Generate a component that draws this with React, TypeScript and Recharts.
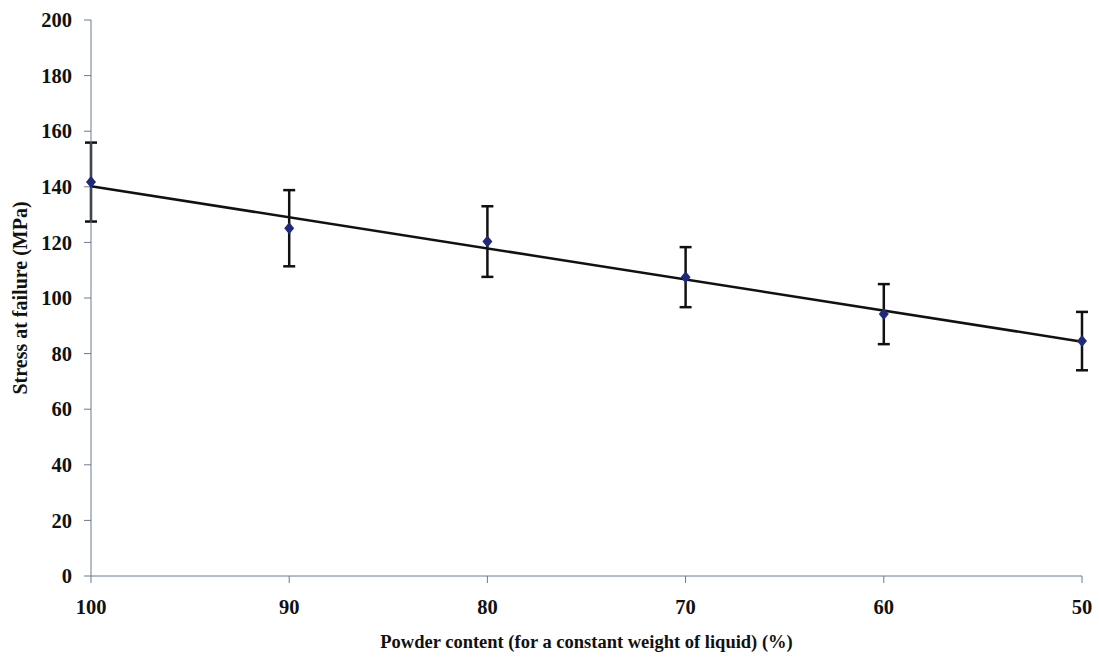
import React from 'react';
import {
    ComposedChart, Scatter, ErrorBar, XAxis, YAxis, ReferenceLine, Label
} from 'recharts';

// powder content (%) and measured stress (MPa) with error half-widths
const powder = [100, 90, 80, 70, 60, 50];
const stress = [141.7, 125.1, 120.3, 107.5, 94.2, 84.5];
const stressErr = [14.2, 13.7, 12.7, 10.8, 10.8, 10.5];

// linear trend line end points
const trendX = [100, 50];
const trendY = [140.2, 84.3];

const xTicks = [100, 90, 80, 70, 60, 50];
const yTicks = [0, 20, 40, 60, 80, 100, 120, 140, 160, 180, 200];

const points = powder.map((p, i) => ({ x: p, y: stress[i], err: stressErr[i] }));

const AXIS = '#6b7a90';
const FONT = '"Liberation Serif", serif';

const Diamond = (props: any) => {
    const { cx, cy } = props;
    return (
        <path
            d={`M${cx},${cy - 6} L${cx + 5},${cy} L${cx},${cy + 6} L${cx - 5},${cy} Z`}
            fill="#1f2a7a"
        />
    );
};

export default function App() {
    const tickStyle = { fontFamily: FONT, fontWeight: 700, fontSize: 20.5, fill: '#111' };
    return (
        <div style={{ position: 'absolute', left: 0, top: 0, width: 1099, height: 658, background: '#fff', fontFamily: FONT }}>
            <ComposedChart
                width={1099}
                height={658}
                margin={{ top: 20, right: 17, bottom: 30, left: 30 }}
            >
                <XAxis
                    type="number"
                    dataKey="x"
                    domain={[50, 100]}
                    reversed
                    ticks={xTicks}
                    stroke={AXIS}
                    tickLine={{ stroke: AXIS }}
                    tickSize={7}
                    tick={tickStyle}
                    tickMargin={16}
                    height={52}
                >
                    <Label
                        value="Powder content (for a constant weight of liquid) (%)"
                        position="insideBottom"
                        offset={-20}
                        style={{ fontFamily: FONT, fontWeight: 700, fontSize: 18.5, fill: '#111' }}
                    />
                </XAxis>
                <YAxis
                    type="number"
                    dataKey="y"
                    domain={[0, 200]}
                    ticks={yTicks}
                    stroke={AXIS}
                    tickLine={{ stroke: AXIS }}
                    tickSize={7}
                    tick={tickStyle}
                    tickMargin={12}
                    width={61}
                >
                    <Label
                        value="Stress at failure (MPa)"
                        angle={-90}
                        position="insideLeft"
                        offset={-10}
                        style={{ fontFamily: FONT, fontWeight: 700, fontSize: 20, fill: '#111', textAnchor: 'middle' }}
                    />
                </YAxis>
                <ReferenceLine
                    segment={[{ x: trendX[0], y: trendY[0] }, { x: trendX[1], y: trendY[1] }]}
                    stroke="#111"
                    strokeWidth={2.5}
                />
                <Scatter data={points} shape={<Diamond />} isAnimationActive={false}>
                    <ErrorBar dataKey="err" direction="y" width={6} strokeWidth={2.5} stroke="#111" />
                </Scatter>
            </ComposedChart>
        </div>
    );
}
